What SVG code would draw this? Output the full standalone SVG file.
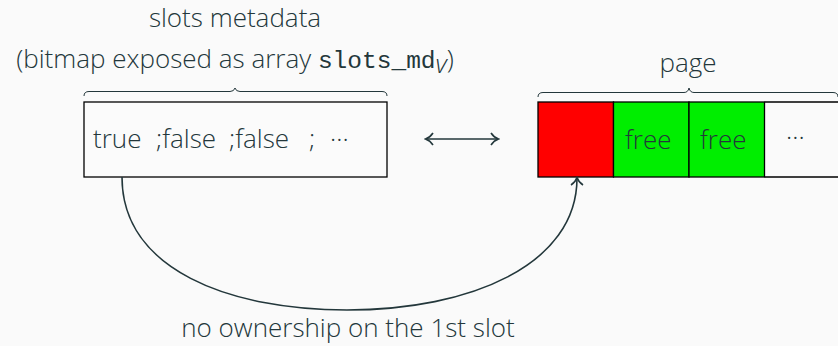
<svg xmlns="http://www.w3.org/2000/svg" width="838" height="346" viewBox="0 0 838 346">
<defs>
<style>
.t{font-family:"Open Sans","Liberation Sans",sans-serif;font-size:26px;font-weight:300;fill:#23373b}
.m{font-family:"Liberation Mono","DejaVu Sans Mono",monospace;font-size:24.5px;fill:#23373b}
.br{fill:none;stroke:#23373b;stroke-width:1}
.cell{stroke:#000;stroke-width:1.3}
.ln{fill:none;stroke:#23373b;stroke-width:1.6}
</style>
<marker id="ah" viewBox="0 0 12 14" refX="10" refY="7" markerWidth="12" markerHeight="14" markerUnits="userSpaceOnUse" orient="auto-start-reverse">
<path d="M3,1 Q6,5.5 10.5,7 Q6,8.5 3,13" fill="none" stroke="#23373b" stroke-width="1.6"/>
</marker>
</defs>
<rect width="838" height="346" fill="#fafafa"/>
<g id="metadata-title">
<text class="t" x="235" y="27" text-anchor="middle">slots metadata</text>
<text x="235" y="68" text-anchor="middle"><tspan class="t">(bitmap exposed as array </tspan><tspan class="m">slots_md</tspan><tspan class="t" font-size="16" font-style="italic" dy="5">v</tspan><tspan class="t" dy="-5">)</tspan></text>
</g>
<g id="metadata-box">
<path class="br" d="M84,96 Q84,91.5 89,91.5 L230,91.5 Q234,91.5 235,88 Q236,91.5 240,91.5 L382,91.5 Q387,91.5 387,96"/>
<rect x="84" y="102" width="303" height="75" fill="#fbfbfb" class="cell"/>
<text class="t" y="148"><tspan x="93">true</tspan><tspan x="156">;false</tspan><tspan x="229">;false</tspan><tspan x="309">;</tspan><tspan x="330">···</tspan></text>
</g>
<g id="page-title">
<text class="t" x="688" y="72" text-anchor="middle">page</text>
</g>
<g id="page">
<path class="br" d="M538,97 Q538,92.5 543,92.5 L684,92.5 Q688,92.5 689,88 Q690,92.5 694,92.5 L833,92.5 Q838,92.5 838,97"/>
<rect x="538" y="102" width="75.5" height="75" fill="#ff0000" class="cell"/>
<rect x="613.5" y="102" width="75.5" height="75" fill="#00ee00" class="cell"/>
<rect x="689" y="102" width="75.5" height="75" fill="#00ee00" class="cell"/>
<path d="M764.5,102 L838,102 M764.5,177 L838,177" class="cell" fill="none"/>
<text class="t" x="625" y="149">free</text>
<text class="t" x="700" y="149">free</text>
<text class="t" x="786" y="146">···</text>
</g>
<g id="connectors">
<line class="ln" x1="426" y1="139" x2="498" y2="139" marker-start="url(#ah)" marker-end="url(#ah)"/>
<path class="ln" d="M122,177 C122,270 230,310 347,310 C470,310 577,265 577,178" marker-end="url(#ah)"/>
<text class="t" x="348" y="337" text-anchor="middle">no ownership on the 1st slot</text>
</g>
</svg>
